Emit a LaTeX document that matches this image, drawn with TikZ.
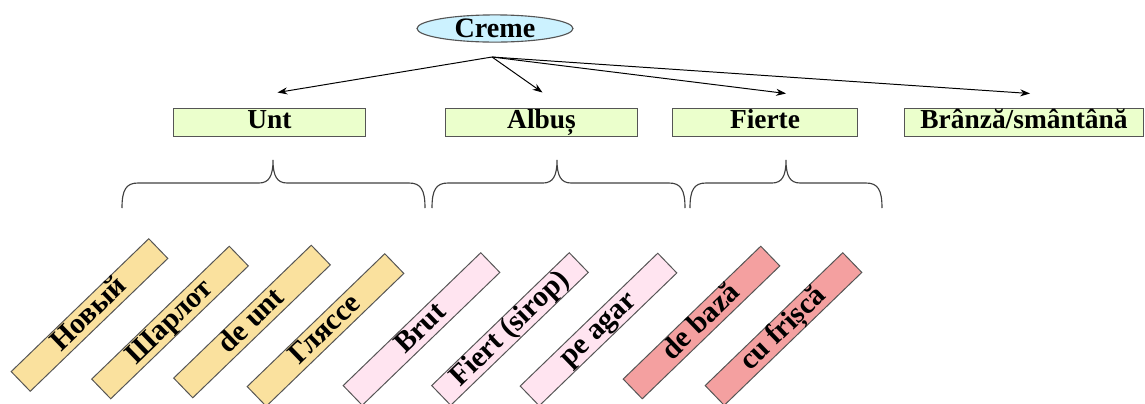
\documentclass[tikz,border=0pt]{standalone}
\usepackage{fontspec}
\setmainfont{Liberation Serif}
\usetikzlibrary{shapes.geometric,arrows.meta}

\definecolor{cremefill}{RGB}{204,242,255}
\definecolor{grupafill}{RGB}{235,255,204}
\definecolor{untfill}{RGB}{250,225,158}
\definecolor{albusfill}{RGB}{255,228,240}
\definecolor{fiertfill}{RGB}{244,160,160}
\definecolor{boxline}{RGB}{85,85,85}

\tikzset{
  grupa/.style={draw=boxline, fill=grupafill, line width=0.7pt,
    minimum width=#1, minimum height=0.7cm, inner sep=0pt,
    text height=13.5pt, text depth=4.5pt,
    font=\fontsize{19.5}{22}\selectfont\bfseries},
  fel/.style={draw=boxline, fill=#1, line width=0.7pt, rotate=44,
    minimum width=4.78cm, minimum height=0.65cm, inner sep=0pt,
    text height=15pt, text depth=4.5pt,
    font=\fontsize{21}{23}\selectfont\bfseries},
  sageata/.style={-{Stealth[length=7pt,width=5pt]}, line width=0.7pt},
}

\begin{document}
\begin{tikzpicture}[x=0.025cm, y=-0.025cm]
      \useasboundingbox (0,0) rectangle (1145,403);
      \draw
        (495,28.5) node[ellipse, draw=boxline, fill=cremefill, line width=0.8pt,
          minimum width=3.9cm, minimum height=0.68cm, inner sep=0pt,
          font=\fontsize{20}{22}\selectfont\bfseries] (creme){Creme}
        (269.5,122) node[grupa=4.82cm] (unt){Unt}
        (541.5,122) node[grupa=4.78cm] (albus){Albuș}
        (765,122) node[grupa=4.6cm] (fierte){Fierte}
        (1024,122) node[grupa=5.95cm] (branza){Brânză/smântână};
      \coordinate (src) at (492,57);
      \begin{scope}[sageata]
        \draw (src) -- ([shift={(8,-15)}]unt.north);
        \draw (src) -- ([shift={(1,-15)}]albus.north);
        \draw (src) -- ([shift={(21,-14)}]fierte.north);
        \draw (src) -- ([shift={(6,-14)}]branza.north);
      \end{scope}
      % acolade
      \foreach \a/\m/\b in {122/273/425, 432/557/685, 690/786/882}
        \draw[line width=0.8pt, draw=black!75]
          ({\a},208) .. controls ({\a},190) and ({\a+4},183) .. ({\a+16},183)
          -- ({\m-14},183) .. controls ({\m-4},183) and ({\m},176) .. ({\m},160)
          .. controls ({\m},176) and ({\m+4},183) .. ({\m+14},183)
          -- ({\b-16},183) .. controls ({\b-4},183) and ({\b},190) .. ({\b},208);
      \draw
        (89.5,315) node[fel=untfill] (novyj){Новый}
        (170,322.5) node[fel=untfill] (sharlot){Шарлот}
        (252,321.5) node[fel=untfill] (deunt){de unt}
        (325.5,330) node[fel=untfill] (glyasse){Глясcе}
        (421.5,329) node[fel=albusfill] (brut){Brut}
        (510,329) node[fel=albusfill] (fiert){Fiert (sirop)}
        (598.5,329.5) node[fel=albusfill] (peagar){pe agar}
        (701.5,322.5) node[fel=fiertfill] (debaza){de bază}
        (783.5,329) node[fel=fiertfill] (cufrisca){cu frișcă};
    \end{tikzpicture}
\end{document}
